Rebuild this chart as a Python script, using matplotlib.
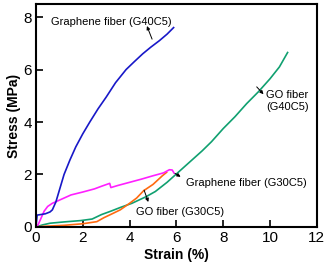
import matplotlib
matplotlib.use('Agg')
import matplotlib.pyplot as plt

plt.rcParams['font.family'] = ['Liberation Sans', 'DejaVu Sans']

# Graphene fiber (G40C5)
g40_x = [0, 0.05, 0.2, 0.4, 0.6, 0.7, 0.85, 1.0, 1.2, 1.45, 1.7, 2.0, 2.3, 2.65, 3.0, 3.4, 3.85, 4.2, 4.56, 4.9, 5.27, 5.6, 5.88]
g40_y = [0, 0.45, 0.47, 0.5, 0.57, 0.65, 0.95, 1.4, 2.0, 2.55, 3.05, 3.55, 4.0, 4.5, 4.95, 5.5, 6.0, 6.3, 6.6, 6.85, 7.1, 7.35, 7.6]

# Graphene fiber (G30C5)
g30_x = [0, 0.1, 0.2, 0.35, 0.5, 0.7, 0.9, 1.2, 1.5, 2.0, 2.5, 2.8, 3.15, 3.2, 3.5, 4.0, 4.5, 5.0, 5.45, 5.7, 5.82, 5.9]
g30_y = [0, 0.1, 0.3, 0.6, 0.78, 0.9, 0.98, 1.1, 1.22, 1.33, 1.45, 1.55, 1.66, 1.5, 1.58, 1.7, 1.82, 1.95, 2.06, 2.18, 2.17, 2.05]

# GO fiber (G30C5)
go30_x = [0, 0.3, 1.2, 2.0, 2.6, 2.9, 3.3, 3.6, 4.0, 4.3, 4.6, 5.0, 5.4, 5.58]
go30_y = [0, 0.02, 0.06, 0.12, 0.2, 0.35, 0.52, 0.65, 0.9, 1.1, 1.38, 1.62, 1.95, 2.08]

# GO fiber (G40C5)
go40_x = [0, 0.3, 0.6, 1.2, 1.9, 2.4, 2.8, 3.2, 3.6, 4.1, 4.7, 5.1, 5.6, 6.0, 6.6, 7.1, 7.5, 8.0, 8.5, 9.0, 9.5, 10.0, 10.4, 10.75]
go40_y = [0, 0.08, 0.14, 0.19, 0.24, 0.3, 0.47, 0.6, 0.74, 0.9, 1.15, 1.35, 1.7, 2.02, 2.5, 2.9, 3.25, 3.75, 4.2, 4.7, 5.15, 5.65, 6.1, 6.65]

fig = plt.figure(figsize=(3.27, 2.66), dpi=100)
ax = fig.add_axes([0.110, 0.147, 0.859, 0.838])

ax.plot(go40_x, go40_y, color='#10a070', lw=1.2)
ax.plot(go30_x, go30_y, color='#ff6a10', lw=1.2)
ax.plot(g30_x, g30_y, color='#ff20ff', lw=1.2)
ax.plot(g40_x, g40_y, color='#1818c8', lw=1.2)

ax.set_xlim(0, 12)
ax.set_ylim(0, 8.5)
ax.set_xticks([0, 2, 4, 6, 8, 10, 12])
ax.set_yticks([0, 2, 4, 6, 8])
ax.tick_params(direction='in', length=5, width=1.2, labelsize=11, pad=3)
for s in ax.spines.values():
    s.set_linewidth(1.5)

ax.set_xlabel('Strain (%)', fontsize=10, fontweight='bold', labelpad=2)
ax.set_ylabel('Stress (MPa)', fontsize=10, fontweight='bold', labelpad=2)

arrow = dict(arrowstyle='<|-', color='black', lw=0.7, mutation_scale=5, shrinkA=0, shrinkB=0)
ax.annotate('', xy=(4.96, 7.16), xytext=(4.74, 7.66), arrowprops=arrow)
ax.text(3.2, 7.81, 'Graphene fiber (G40C5)', fontsize=8, ha='center', va='center')

ax.annotate('', xy=(9.43, 5.34), xytext=(9.72, 5.06), arrowprops=arrow)
ax.text(10.73, 4.8, 'GO fiber\n(G40C5)', fontsize=8, ha='center', va='center', linespacing=1.2)

ax.annotate('', xy=(5.94, 2.04), xytext=(6.18, 1.91), arrowprops=arrow)
ax.text(8.97, 1.67, 'Graphene fiber (G30C5)', fontsize=8, ha='center', va='center')

ax.annotate('', xy=(4.62, 1.40), xytext=(4.8, 0.95), arrowprops=arrow)
ax.text(6.17, 0.56, 'GO fiber (G30C5)', fontsize=8, ha='center', va='center')

fig.savefig('out.png', dpi=100)
